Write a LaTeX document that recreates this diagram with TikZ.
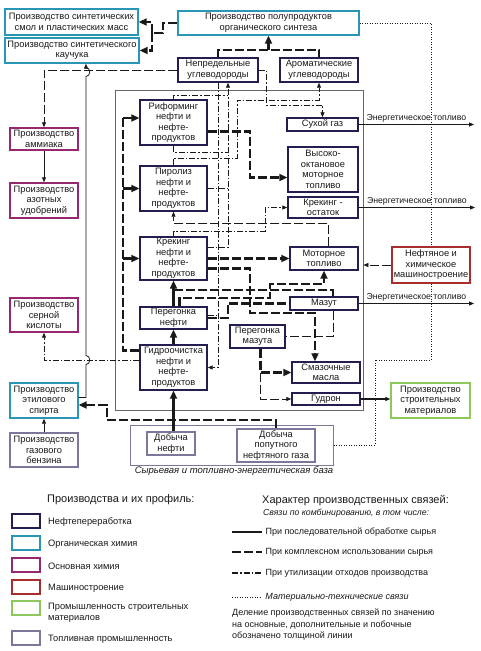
\documentclass[tikz,border=0pt]{standalone}
\usepackage{fontspec}
\setmainfont{Liberation Sans}
\usetikzlibrary{arrows.meta,calc}
\definecolor{navy}{RGB}{35,30,80}
\definecolor{cyanc}{RGB}{40,150,180}
\definecolor{magc}{RGB}{150,40,110}
\definecolor{redc}{RGB}{170,45,45}
\definecolor{greenc}{RGB}{140,200,90}
\definecolor{lavc}{RGB}{125,120,155}
\definecolor{inkc}{RGB}{25,25,25}
\begin{document}
\begin{tikzpicture}[x=1pt,y=-1pt,
 box/.style={draw, line width=1.4pt, fill=white, inner sep=0pt, align=center, text=inkc, font=\fontsize{9.3}{10.5}\selectfont},
 nb/.style={box, draw=navy},
 cb/.style={box, draw=cyanc},
 mb/.style={box, draw=magc},
 rb/.style={box, draw=redc},
 gb/.style={box, draw=greenc},
 lb/.style={box, draw=lavc},
 thn/.style={line width=0.8pt, draw=inkc},
 thk/.style={line width=2.2pt, draw=inkc},
 comp/.style={dash pattern=on 9pt off 3pt},
 util/.style={dash pattern=on 6pt off 2pt on 1.5pt off 2pt},
 mat/.style={dash pattern=on 1pt off 1.5pt, line width=0.9pt, draw=inkc},
 ta/.style={-{Triangle[length=8pt,width=7pt]}},
 sa/.style={-{Triangle[length=5pt,width=4pt]}},
 lf/.style={font=\fontsize{9.3}{10.5}\selectfont, text=inkc, inner sep=0pt},
 rf/.style={font=\fontsize{9}{10.5}\selectfont, text=inkc, inner sep=0pt},
]
\useasboundingbox (0,0) rectangle (481,651);
\fill[white] (0,0) rectangle (481,651);

% frames
\node[draw=black!60, line width=0.8pt, minimum width=248pt, minimum height=320pt, inner sep=0] (inner) at (239,250) {};
\node[draw=lavc, line width=1pt, minimum width=203pt, minimum height=40pt, inner sep=0] (syr) at (231.5,445) {};
\node[lf, font=\fontsize{9.5}{10.5}\selectfont\itshape] (syrt) at (234,471) {Сырьевая и топливно-энергетическая база};

% boxes
\node[cb, minimum width=133pt, minimum height=26pt] (smol) at (71.5,22) {Производство синтетических\\смол и пластических масс};
\node[cb, minimum width=134pt, minimum height=25pt] (kauch) at (72,50.5) {Производство синтетического\\каучука};
\node[cb, minimum width=181pt, minimum height=24pt] (polu) at (268.5,23) {Производство полупродуктов\\органического синтеза};
\node[nb, minimum width=80pt, minimum height=24pt] (nepr) at (218,70) {Непредельные\\углеводороды};
\node[nb, minimum width=78pt, minimum height=24pt] (arom) at (319,70) {Ароматические\\углеводороды};
\node[nb, minimum width=67pt, minimum height=45pt] (ref) at (173.5,122.5) {Риформинг\\нефти и\\нефте-\\продуктов};
\node[nb, minimum width=71pt, minimum height=13pt] (suhoy) at (322.5,124.5) {Сухой газ};
\node[nb, minimum width=70pt, minimum height=45pt] (vys) at (323,169.5) {Высоко-\\октановое\\моторное\\топливо};
\node[nb, minimum width=67pt, minimum height=45pt] (piro) at (173.5,188.5) {Пиролиз\\нефти и\\нефте-\\продуктов};
\node[nb, minimum width=70pt, minimum height=21pt] (krost) at (323,207.5) {Крекинг -\\остаток};
\node[nb, minimum width=67pt, minimum height=43pt] (kreking) at (173.5,258.5) {Крекинг\\нефти и\\нефте-\\продуктов};
\node[nb, minimum width=68pt, minimum height=23pt] (motor) at (324,258.5) {Моторное\\топливо};
\node[nb, minimum width=68pt, minimum height=13pt] (mazut) at (324,303.5) {Мазут};
\node[nb, minimum width=67pt, minimum height=22pt] (pereg) at (173.5,318) {Перегонка\\нефти};
\node[nb, minimum width=55pt, minimum height=23pt] (peregm) at (257.5,336.5) {Перегонка\\мазута};
\node[nb, minimum width=67pt, minimum height=45pt] (gidro) at (173.5,367.5) {Гидроочистка\\нефти и\\нефте-\\продуктов};
\node[nb, minimum width=68pt, minimum height=21pt] (smaz) at (326,372.5) {Смазочные\\масла};
\node[nb, minimum width=68pt, minimum height=12pt] (gudron) at (326,399) {Гудрон};
\node[mb, minimum width=68pt, minimum height=22pt] (amm) at (44,139) {Производство\\аммиака};
\node[mb, minimum width=68pt, minimum height=35pt] (azot) at (44,200.5) {Производство\\азотных\\удобрений};
\node[mb, minimum width=68pt, minimum height=34pt] (ser) at (44,315) {Производство\\серной\\кислоты};
\node[cb, minimum width=68pt, minimum height=35pt] (etil) at (44,400.5) {Производство\\этилового\\спирта};
\node[lb, minimum width=68pt, minimum height=34pt] (gaz) at (44,450) {Производство\\газового\\бензина};
\node[lb, minimum width=48pt, minimum height=23pt] (dobn) at (171,443.5) {Добыча\\нефти};
\node[lb, minimum width=78pt, minimum height=33pt] (dobp) at (276,445.5) {Добыча\\попутного\\нефтяного газа};
\node[rb, minimum width=78pt, minimum height=36pt] (mash) at (431,265) {Нефтяное и\\химическое\\машиностроение};
\node[gb, minimum width=79pt, minimum height=35pt] (stroy) at (430.5,400.5) {Производство\\строительных\\материалов};

% connectors
\coordinate (j1) at (152,33);
\draw[thk,comp] (polu.west) -- (163,23) -- (163,33) -- (j1);
\draw[thk,comp,ta] (j1) |- (smol.east);
\draw[thk,comp,ta] (j1) |- (kauch.east);
\coordinate (j2) at (268.5,50);
\draw[thk,comp] (nepr.north) |- (j2) -| (arom.north);
\draw[thk,ta] (j2) -- (polu.south);
\draw[thn,comp,sa] (nepr.west) -| (amm.north);
\draw[thn,sa] (amm.south) -- (azot.north);
\draw[thn,sa] ([yshift=3pt]etil.east) -- (86,397.5) -- (86,364.5) .. controls (91,364.5) and (91,355.5) .. (86,355.5) -- (86,76.5) .. controls (91,76.5) and (91,67.5) .. (86,67.5) -- ([xshift=14pt]kauch.south);
\draw[thn,util,sa] ([yshift=7.5pt]gidro.west) -| (ser.south);
\coordinate (L0) at (123,350.5);
\coordinate (L1) at (123,118);
\coordinate (L2) at (123,188.5);
\coordinate (L3) at (123,258.5);
\draw[thk,comp] ([yshift=17pt]gidro.west) -- (L0) -- (L1);
\draw[thk,ta] (L1) -- ([yshift=4.5pt]ref.west);
\draw[thk,ta] (L2) -- (piro.west);
\draw[thk,ta] (L3) -- (kreking.west);
\draw[thk,ta] (dobn.north -| gidro.south) -- (gidro.south);
\draw[thk,ta] (gidro.north) -- (pereg.south);
\draw[thk,ta] (pereg.north) -- (kreking.south);
\draw[thk,comp,ta] ([xshift=6pt]pereg.north) -- (179.5,298) -- (270,298) -- (270,284) -| (motor.south);
\draw[thk,comp] ([xshift=9pt]mazut.north) |- (173.5,290);
\draw[thk,comp] (pereg.east) -- (228,318) |- (mazut.west);
\draw[thk,comp,ta] (kreking.east) -- (motor.west);
\draw[thk,comp,ta] ([yshift=-10pt]kreking.east) -- (250,268.5) -- (250,313) -| ([xshift=-11pt]smaz.north);
\draw[thk,comp,ta] ([yshift=-9pt]ref.east) -- (250,131.5) |- ([yshift=-8pt]vys.west);
\draw[thn,comp] ([xshift=9pt]mazut.south) |- (peregm.east);
\draw[thk,comp,ta] ([xshift=3pt]peregm.south) |- (smaz.west);
\draw[thn,comp,sa] ([xshift=3pt]peregm.south) |- (gudron.west);
\draw[line width=1.2pt,draw=inkc,sa] (gudron.east) -- (gudron.east -| stroy.west);
\coordinate (e1) at (474,124.5);
\coordinate (e2) at (475,207.5);
\coordinate (e3) at (474,303.5);
\draw[thn,sa] (suhoy.east) -- (e1) node[midway, above=2pt, lf, font=\fontsize{8.7}{10}\selectfont] {Энергетическое топливо};
\draw[thn,sa] (krost.east) -- (e2) node[midway, above=2pt, lf, font=\fontsize{8.7}{10}\selectfont] {Энергетическое топливо};
\draw[thn,sa] (mazut.east) -- (e3) node[midway, above=2pt, lf, font=\fontsize{8.7}{10}\selectfont] {Энергетическое топливо};
\draw[thn,comp,sa] (mash.west) -- (mash.west -| inner.east);
\draw[mat] (polu.east) -| (mash.north);
\draw[mat] (mash.south) -- (431,360) -- (375,360) |- (syr.east);
\draw[thk,comp,ta] (dobp.north) -- (276,420) -- (107,420) -- (107,405) -- ([yshift=-4.5pt]etil.east);
\draw[thn,sa] (gaz.north) -- (etil.south);
% utilisation links
\draw[thn,util,sa] (nepr.south) |- (gidro.east);
\draw[thn,util,sa] ([yshift=11pt]kreking.east) -| ([xshift=10pt]nepr.south);
\draw[thn,util] (piro.east) -- (228,188.5);
\draw[thn,util] (ref.north) |- (228,95);
\draw[thn,util] (ref.south) |- (228,152);
\draw[thn,util,sa] (piro.north) |- (237,158) -- (237,100) -| (arom.south);
\draw[thn,util,sa] (kreking.north) |- (265,231) |- (krost.west);
\draw[thn,comp,sa] ([xshift=4pt]motor.north) |- (173.5,223) -- (piro.south);
\draw[thn,util,sa] (nepr.east) -| (266,105) -| (suhoy.north);
\draw[thn,util] ([yshift=3pt]pereg.east) -- (218,315);

% legend left
\node[lf, anchor=west, font=\fontsize{11}{12}\selectfont] (lgt) at (47,500) {Производства и их профиль:};
\node[draw=navy, line width=1.5pt, minimum width=28pt, minimum height=14pt, inner sep=0] (lg1) at (26,521) {};
\node[draw=cyanc, line width=1.5pt, minimum width=28pt, minimum height=14pt, inner sep=0] (lg2) at (26,543) {};
\node[draw=magc, line width=1.5pt, minimum width=28pt, minimum height=14pt, inner sep=0] (lg3) at (26,565) {};
\node[draw=redc, line width=1.5pt, minimum width=28pt, minimum height=14pt, inner sep=0] (lg4) at (26,587) {};
\node[draw=greenc, line width=1.5pt, minimum width=28pt, minimum height=14pt, inner sep=0] (lg5) at (26,608) {};
\node[draw=lavc, line width=1.5pt, minimum width=28pt, minimum height=14pt, inner sep=0] (lg6) at (26,638) {};
\node[lf, anchor=west] (lx1) at (48,522) {Нефтепереработка};
\node[lf, anchor=west] (lx2) at (48,544) {Органическая химия};
\node[lf, anchor=west] (lx3) at (48,566) {Основная химия};
\node[lf, anchor=west] (lx4) at (48,588) {Машиностроение};
\node[lf, anchor=north west, align=left] (lx5) at (48,603) {Промышленность строительных\\материалов};
\node[lf, anchor=west] (lx6) at (48,639) {Топливная промышленность};

% legend right
\node[lf, anchor=west, font=\fontsize{11}{12}\selectfont] (rgt) at (262,501) {Характер производственных связей:};
\node[lf, anchor=west, font=\fontsize{8.7}{10}\selectfont\itshape] (rgs) at (263,513) {Связи по комбинированию, в том числе:};
\coordinate (a1) at (232,532); \coordinate (b1) at (262,532);
\coordinate (a2) at (232,552); \coordinate (b2) at (262,552);
\coordinate (a3) at (232,573); \coordinate (b3) at (262,573);
\coordinate (a4) at (232,597); \coordinate (b4) at (262,597);
\draw[thn, line width=1.2pt] (a1) -- (b1) node[right=3pt, rf] {При последовательной обработке сырья};
\draw[thn, line width=1.2pt, comp] (a2) -- (b2) node[right=3pt, rf] {При комплексном использовании сырья};
\draw[thn, line width=1.2pt, util] (a3) -- (b3) node[right=3pt, rf] {При утилизации отходов производства};
\draw[mat] (a4) -- (b4) node[right=3pt, rf, font=\fontsize{9}{10.5}\selectfont\itshape] {Материально-технические связи};
\node[rf, anchor=north west, align=left, font=\fontsize{9}{11.5}\selectfont] (rgd) at (232,609) {Деление производственных связей по значению\\на основные, дополнительные и побочные\\обозначено толщиной линии};
\end{tikzpicture}
\end{document}
